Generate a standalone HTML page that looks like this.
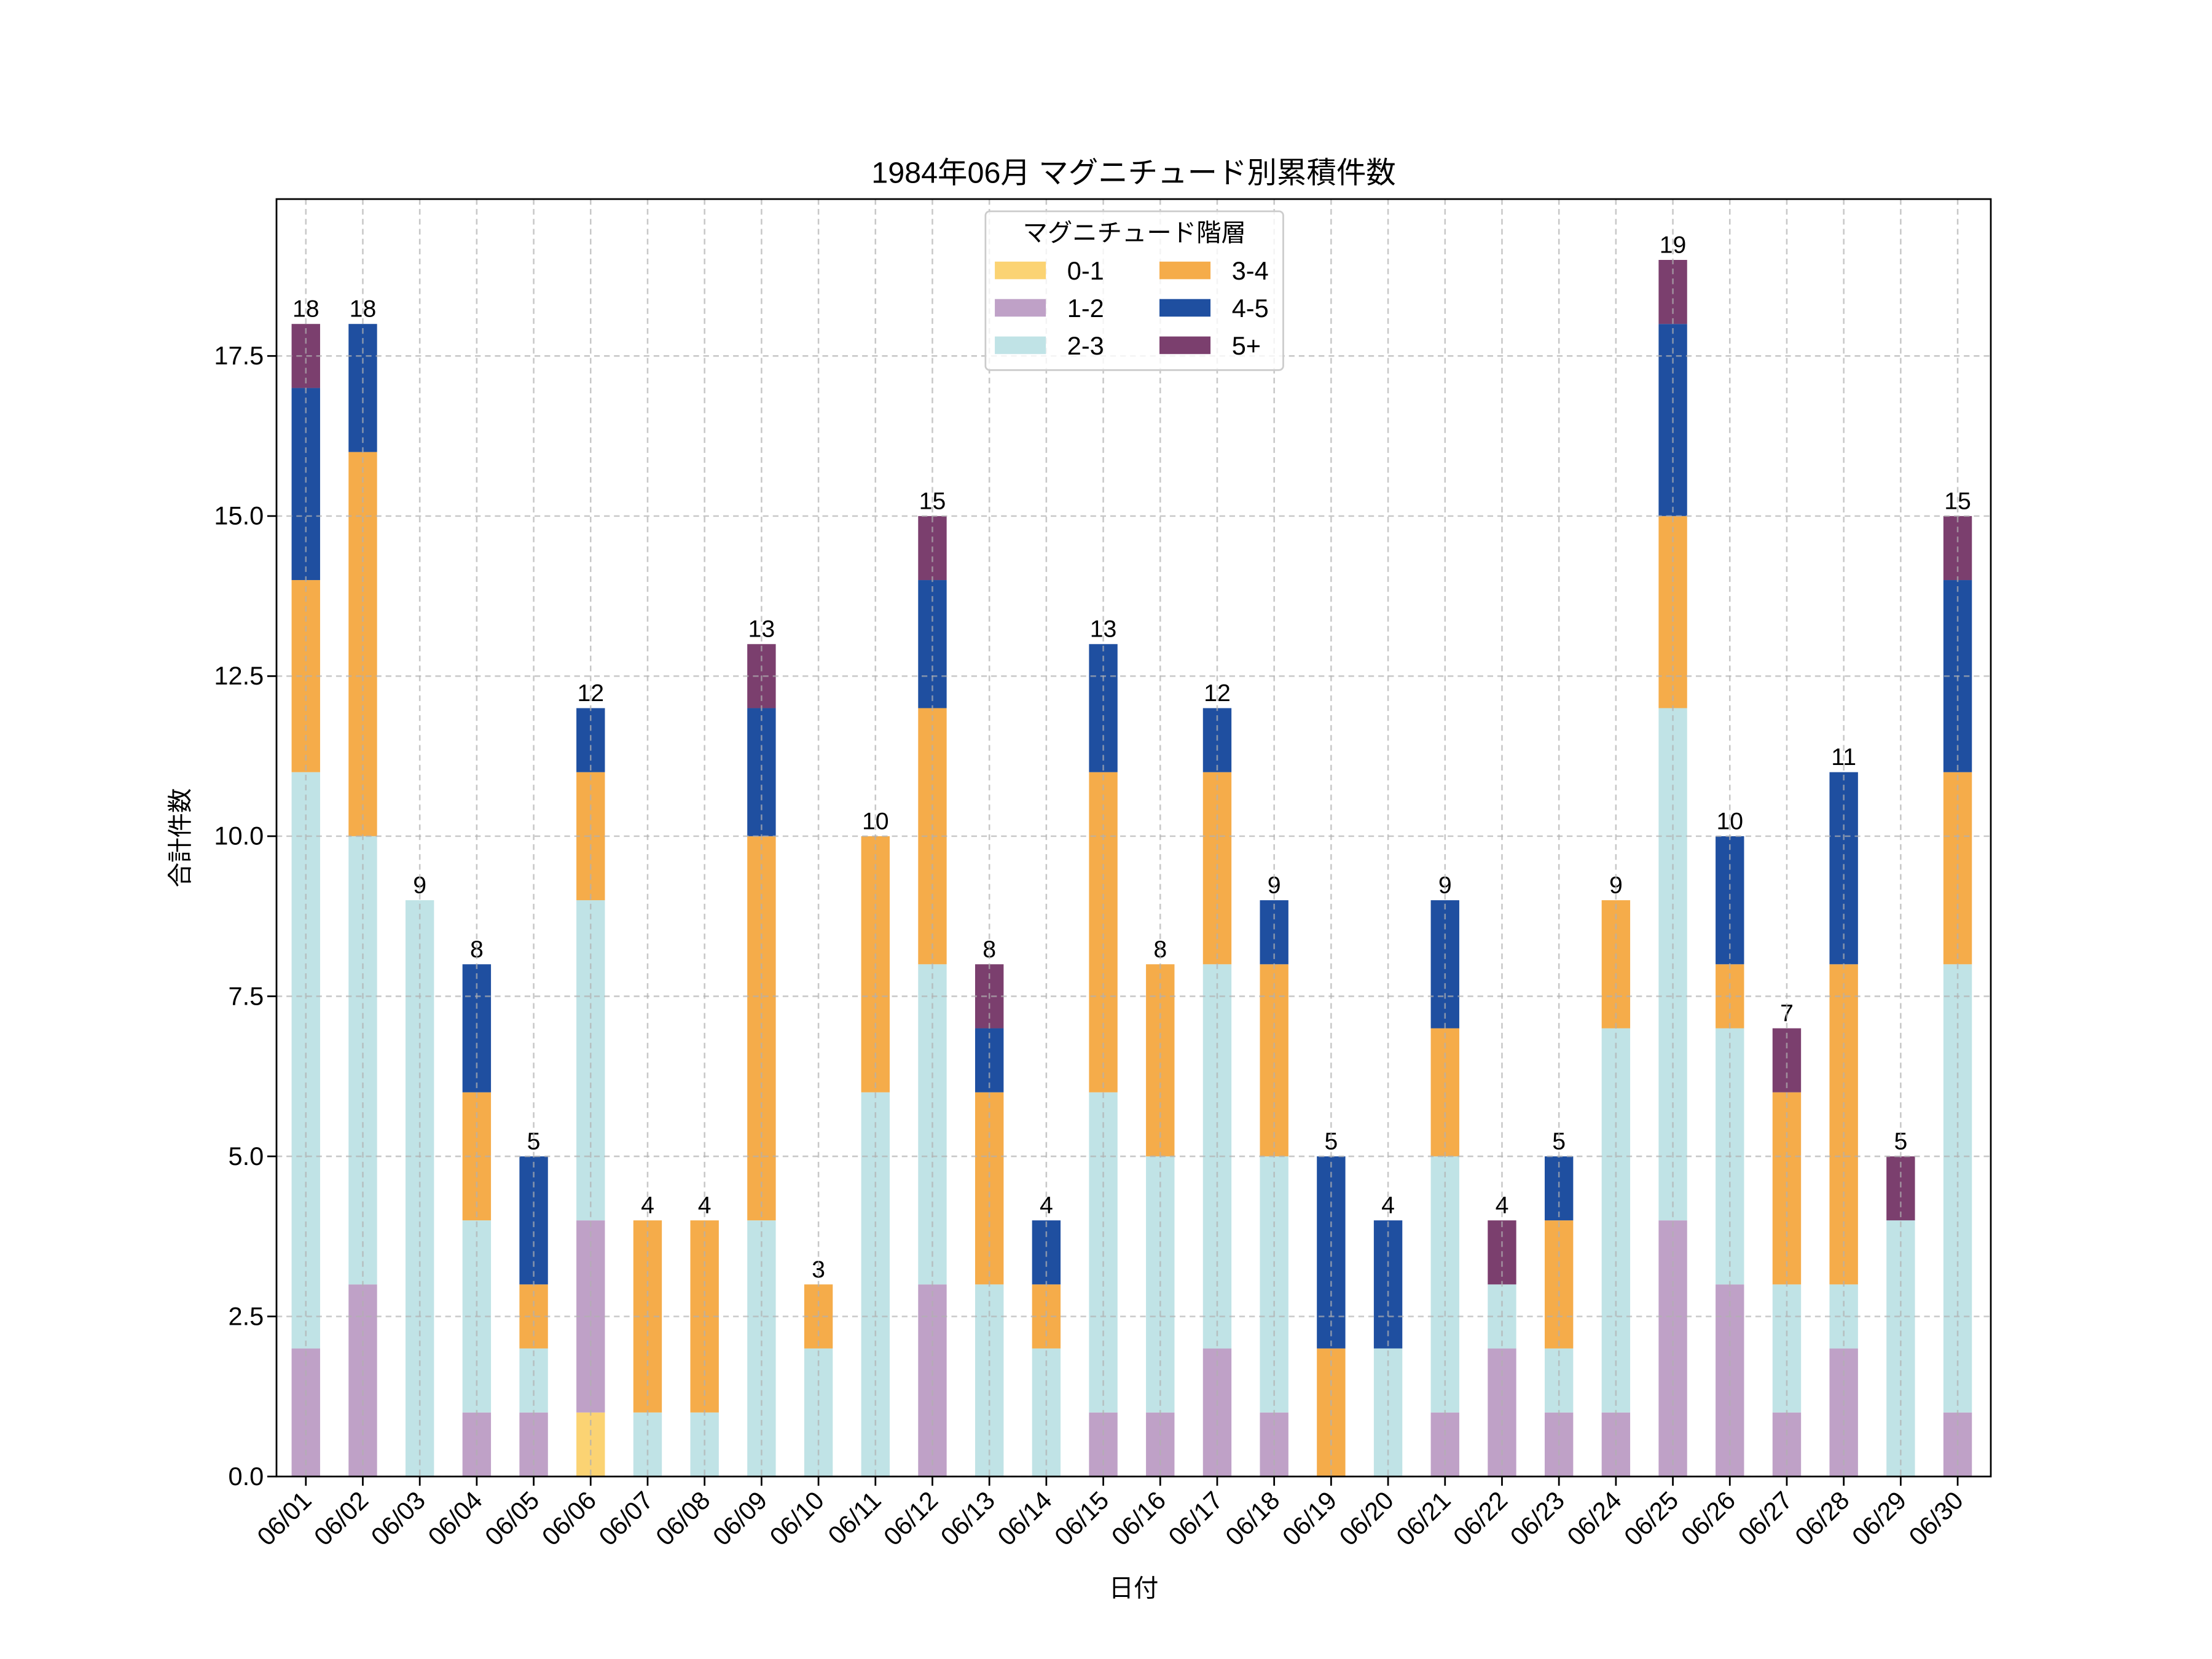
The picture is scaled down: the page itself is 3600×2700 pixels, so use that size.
<!DOCTYPE html>
<html><head><meta charset="utf-8"><style>html,body{margin:0;padding:0;background:#fff}svg{display:block}</style></head>
<body>
<svg id="s" xmlns="http://www.w3.org/2000/svg" width="3600" height="2700" viewBox="0 0 1560 1170" font-family="'Liberation Sans','Noto Sans CJK JP',sans-serif"></svg>
<script>
const s=document.getElementById('s');const NS='http://www.w3.org/2000/svg';
function el(t,a,txt){const e=document.createElementNS(NS,t);for(const k in a)e.setAttribute(k,a[k]);if(txt!==undefined)e.textContent=txt;s.appendChild(e);return e;}
const cols=['#fbd373','#bfa1c7','#c0e3e6','#f5ac4a','#1f4fa0','#7b3f6e'];
const D=[
[0,2,11,14,17,18],[0,3,10,16,18,18],[0,0,9,9,9,9],[0,1,4,6,8,8],[0,1,2,3,5,5],
[1,4,9,11,12,12],[0,0,1,4,4,4],[0,0,1,4,4,4],[0,0,4,10,12,13],[0,0,2,3,3,3],
[0,0,6,10,10,10],[0,3,8,12,14,15],[0,0,3,6,7,8],[0,0,2,3,4,4],[0,1,6,11,13,13],
[0,1,5,8,8,8],[0,2,8,11,12,12],[0,1,5,8,9,9],[0,0,0,2,5,5],[0,0,2,2,4,4],
[0,1,5,7,9,9],[0,2,3,3,3,4],[0,1,2,4,5,5],[0,1,7,9,9,9],[0,4,12,15,18,19],
[0,3,7,8,10,10],[0,1,3,6,6,7],[0,2,3,8,11,11],[0,0,4,4,4,5],[0,1,8,11,14,15]];
const L=195,R=1404,T=140.4,B=1041.3,u=(B-T)/19.95,x0=215.7,dx=40.17,bw=20.1;
const Y=v=>B-v*u;
el('rect',{x:L,y:T,width:R-L,height:B-T,fill:'#fff'});
D.forEach((d,i)=>{const cx=x0+i*dx;let prev=0;d.forEach((v,k)=>{if(v>prev){el('rect',{x:cx-bw/2,y:Y(v),width:bw,height:(v-prev)*u,fill:cols[k]});}prev=Math.max(prev,v);});
 el('text',{x:cx,y:Y(d[5])-5,'text-anchor':'middle','font-size':17},d[5]);});
for(let i=0;i<30;i++){const cx=x0+i*dx;el('line',{x1:cx,y1:T,x2:cx,y2:B,stroke:'#b0b0b0','stroke-width':1.1,'stroke-dasharray':'4,3','stroke-opacity':0.7});}
for(let v=0;v<=17.5;v+=2.5){el('line',{x1:L,y1:Y(v),x2:R,y2:Y(v),stroke:'#b0b0b0','stroke-width':1.1,'stroke-dasharray':'4,3','stroke-opacity':0.7});
 el('line',{x1:L-6.5,y1:Y(v),x2:L,y2:Y(v),stroke:'#000','stroke-width':1.2});
 el('text',{x:L-9,y:Y(v)+6,'text-anchor':'end','font-size':18},v.toFixed(1));}
el('rect',{x:L,y:T,width:R-L,height:B-T,fill:'none',stroke:'#000','stroke-width':1.2});
for(let i=0;i<30;i++){const cx=x0+i*dx;el('line',{x1:cx,y1:B,x2:cx,y2:B+6.5,stroke:'#000','stroke-width':1.2});
 const dd=String(i+1).padStart(2,'0');el('text',{x:cx+5,y:B+18,'text-anchor':'end','font-size':18,transform:`rotate(-45 ${cx+5} ${B+18})`},'06/'+dd);}
el('text',{x:(L+R)/2,y:129,'text-anchor':'middle','font-size':21},'1984年06月 マグニチュード別累積件数');
el('text',{x:(L+R)/2,y:1126,'text-anchor':'middle','font-size':17.5},'日付');
el('text',{x:133,y:(T+B)/2,'text-anchor':'middle','font-size':17.5,transform:`rotate(-90 133 ${(T+B)/2})`},'合計件数');
el('rect',{x:695,y:149,width:210,height:112,rx:3,fill:'#fff','fill-opacity':0.8,stroke:'#ccc','stroke-width':1.2});
el('text',{x:800,y:170,'text-anchor':'middle','font-size':17.5},'マグニチュード階層');
const names=['0-1','1-2','2-3','3-4','4-5','5+'];
names.forEach((n,k)=>{const c=Math.floor(k/3),r=k%3;const px=c?817.7:701.6,ty=190.7+r*26.4;
 el('rect',{x:px,y:ty-6.2,width:36,height:12.4,fill:cols[k]});
 el('text',{x:px+51,y:ty+6.5,'font-size':18},n);});
</script>
</body></html>
